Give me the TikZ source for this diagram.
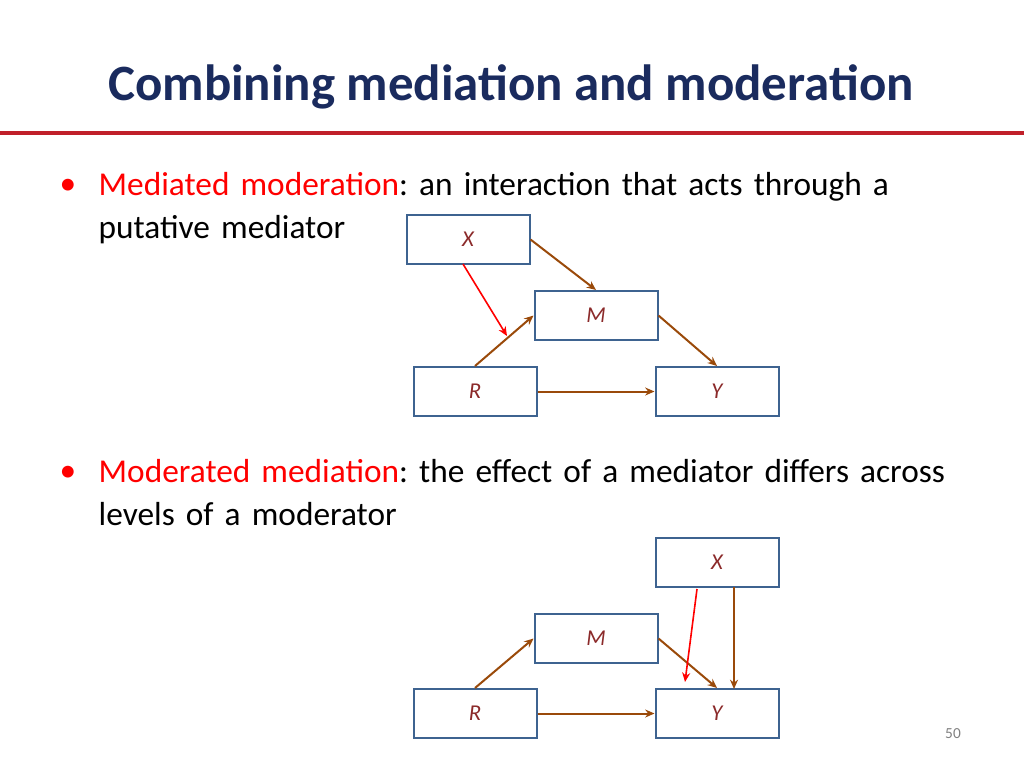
\documentclass[tikz,border=0pt]{standalone}
\usepackage{fontspec}
\setmainfont{Carlito}
\usetikzlibrary{arrows.meta}
\begin{document}
\frenchspacing
\begin{tikzpicture}[x=0.75pt,y=-0.75pt,
  box/.style={draw=boxblue,line width=1.5pt,minimum width=92.25pt,minimum height=36.75pt,inner sep=0pt,
    font=\fontsize{17}{20}\selectfont\itshape,text=lblred},
  arr/.style={draw=brn,line width=1.5pt,-{Stealth[length=7pt,width=6pt]}},
  rarr/.style={draw=red,line width=1.2pt,-{Stealth[length=7pt,width=6pt]}}]
\definecolor{boxblue}{HTML}{3E6390}
\definecolor{lblred}{HTML}{8B2A2A}
\definecolor{brn}{HTML}{9A4A0A}
\definecolor{navy}{HTML}{1A2B5E}
\definecolor{barred}{HTML}{C0202A}
\useasboundingbox (0,0) rectangle (1024,768);
\node[font=\fontsize{38.2}{44}\selectfont\bfseries,text=navy] (title) at (511,87) {Combining mediation and moderation};
\draw[barred,line width=2.4pt] (0,133) -- (1024,133);
\node[anchor=north west,text width=680pt,font=\fontsize{25}{32}\selectfont\frenchspacing,align=left] (b1) at (94,168)
 {{\color{red}Mediated moderation}: an interaction that acts through a\\putative mediator};
\node[red,font=\fontsize{25}{30}\selectfont] (d1) at (68,187) {\textbullet};
\node[anchor=north west,text width=720pt,font=\fontsize{25}{32}\selectfont\frenchspacing,align=left] (b2) at (94,455)
 {{\color{red}Moderated mediation}: the effect of a mediator differs across\\levels of a moderator};
\node[red,font=\fontsize{25}{30}\selectfont] (d2) at (68,474) {\textbullet};
% top diagram
\node[box] (X1) at (468,239.5) {X};
\node[box] (M1) at (596,315.5) {M};
\node[box] (R1) at (475,391.5) {R};
\node[box] (Y1) at (717,391.5) {Y};
\draw[arr] (X1.east) -- (M1.north);
\draw[arr] (M1.east) -- (Y1.north);
\draw[arr] (R1.north) -- (M1.west);
\draw[arr] (R1.east) -- (Y1.west);
\coordinate (t1) at (507,336);
\draw[rarr] (463,264) -- (t1);
% bottom diagram
\node[box] (X2) at (717,562.5) {X};
\node[box] (M2) at (596,638.5) {M};
\node[box] (R2) at (475,713.5) {R};
\node[box] (Y2) at (717,713.5) {Y};
\draw[arr] (R2.north) -- (M2.west);
\draw[arr] (M2.east) -- (Y2.north);
\draw[arr] (R2.east) -- (Y2.west);
\draw[arr] (734,587) -- (734,689);
\coordinate (t2) at (685,682);
\draw[rarr] (697,589) -- (t2);
\node[gray,font=\fontsize{11.5}{13}\selectfont] (pg) at (953,734) {50};
\end{tikzpicture}
\end{document}
